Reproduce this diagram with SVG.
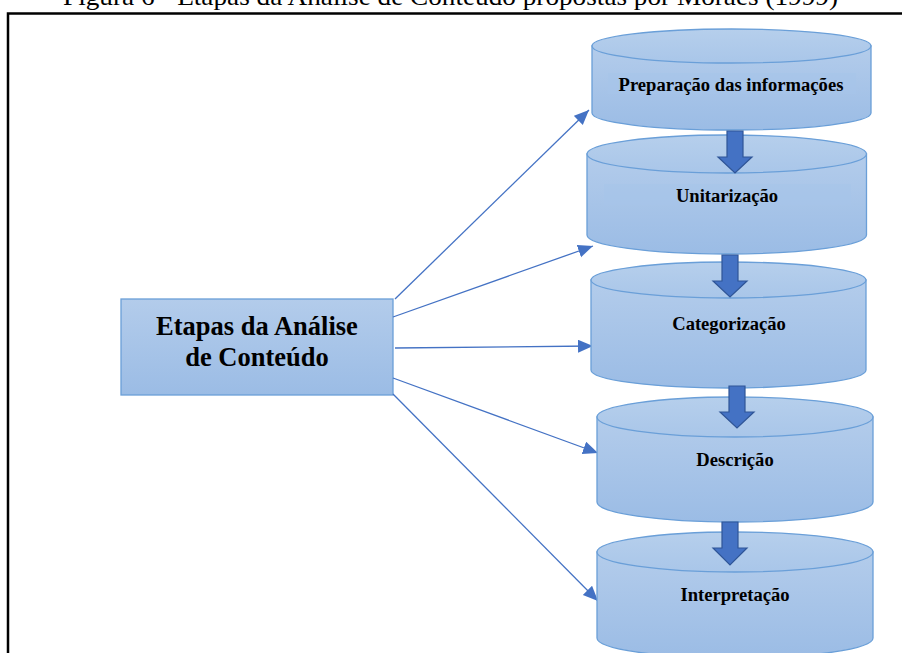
<svg xmlns="http://www.w3.org/2000/svg" width="902" height="653" viewBox="0 0 902 653">
<defs>
<linearGradient id="g" x1="0" y1="0" x2="0" y2="1">
<stop offset="0" stop-color="#b3cceb"/>
<stop offset="1" stop-color="#9bbce5"/>
</linearGradient>
<linearGradient id="gt" x1="0" y1="0" x2="0" y2="1">
<stop offset="0" stop-color="#b6cfec"/>
<stop offset="1" stop-color="#a9c6e9"/>
</linearGradient>
<marker id="ah" markerUnits="userSpaceOnUse" markerWidth="16" markerHeight="14" refX="15" refY="6.5" orient="auto">
<path d="M0,0 L15,6.5 L0,13 Z" fill="#4472c4"/>
</marker>
<style>
.frame{fill:none;stroke:#000;stroke-width:2.5}
.title{font-family:"Liberation Serif","Times New Roman",serif;font-size:26px;fill:#000}
.cyl{fill:url(#g);stroke:#6a9fd8;stroke-width:1.3}
.top{fill:url(#gt);stroke:#6a9fd8;stroke-width:1.3}
.hl{fill:#a6c4ea;opacity:0.6}
.lbl{font-family:"Liberation Serif","Times New Roman",serif;font-weight:bold;font-size:18.6px;fill:#000;text-anchor:middle}
.big{font-family:"Liberation Serif","Times New Roman",serif;font-weight:bold;font-size:26.5px;fill:#000;text-anchor:middle}
.box{fill:url(#g);stroke:#6a9fd8;stroke-width:1.3}
.con{stroke:#4472c4;stroke-width:1.3;fill:none;marker-end:url(#ah)}
.blk{fill:#4472c4;stroke:#2f5597;stroke-width:1.2}
</style>
</defs>
<rect width="902" height="653" fill="#fff"/>
<text class="title" x="63" y="5" textLength="775" lengthAdjust="spacingAndGlyphs">Figura 6 - Etapas da Análise de Conteúdo propostas por Moraes (1999)</text>
<path class="frame" d="M8,655 L8,13.5 L904,13.5"/>

<g id="central">
<rect class="box" x="121" y="299" width="272" height="96"/>
<text class="big" x="257" y="335">Etapas da Análise</text>
<text class="big" x="257" y="366">de Conteúdo</text>
</g>

<g id="connectors">
<line class="con" x1="395" y1="299" x2="589" y2="110"/>
<line class="con" x1="393" y1="317" x2="593" y2="246"/>
<line class="con" x1="395" y1="348" x2="593" y2="346"/>
<line class="con" x1="393" y1="378" x2="598" y2="453"/>
<line class="con" x1="393" y1="394" x2="598" y2="601"/>
</g>

<g id="preparacao">
<path class="cyl" d="M592,46 L592,113 A139.5,17 0 0 0 871,113 L871,46 Z"/>
<ellipse class="top" cx="731.5" cy="46" rx="139.5" ry="17"/>
<rect class="hl" x="608" y="73" width="248" height="21"/>
<text class="lbl" x="731" y="91">Preparação das informações</text>
</g>

<g id="unitarizacao">
<path class="cyl" d="M587,154 L587,235 A139.75,19 0 0 0 866.5,235 L866.5,154 Z"/>
<ellipse class="top" cx="726.75" cy="154" rx="139.75" ry="19"/>
<rect class="hl" x="604" y="184" width="247" height="21"/>
<text class="lbl" x="727" y="202">Unitarização</text>
</g>

<g id="categorizacao">
<path class="cyl" d="M591,280 L591,370 A137.5,18 0 0 0 866,370 L866,280 Z"/>
<ellipse class="top" cx="728.5" cy="280" rx="137.5" ry="18"/>
<text class="lbl" x="729" y="330">Categorização</text>
</g>

<g id="descricao">
<path class="cyl" d="M597,417 L597,502 A138,20 0 0 0 873,502 L873,417 Z"/>
<ellipse class="top" cx="735" cy="417" rx="138" ry="20"/>
<text class="lbl" x="735" y="466">Descrição</text>
</g>

<g id="interpretacao">
<path class="cyl" d="M597,552 L597,638 A138,20 0 0 0 873,638 L873,552 Z"/>
<ellipse class="top" cx="735" cy="552" rx="138" ry="20"/>
<text class="lbl" x="735" y="601">Interpretação</text>
</g>

<g id="flow-arrows">
<path class="blk" d="M727,131 L743,131 L743,157 L752,157 L735,173 L718,157 L727,157 Z"/>
<path class="blk" d="M722,255 L738,255 L738,281 L747,281 L730,297 L713,281 L722,281 Z"/>
<path class="blk" d="M729,386 L745,386 L745,412 L754,412 L737,428 L720,412 L729,412 Z"/>
<path class="blk" d="M722,522 L738,522 L738,548 L747,548 L730,565 L713,548 L722,548 Z"/>
</g>
</svg>
